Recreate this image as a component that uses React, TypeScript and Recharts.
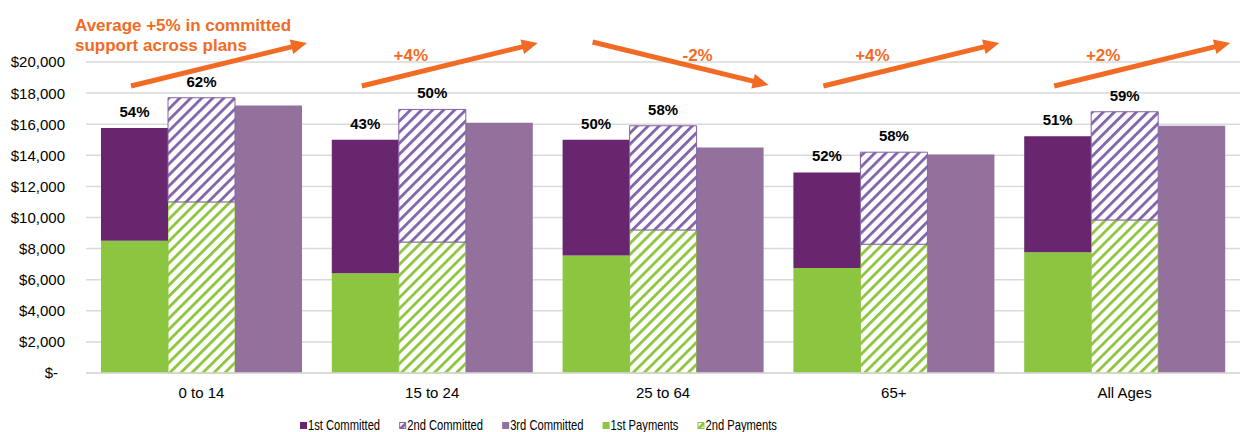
import React from "react";
import { BarChart, Bar, XAxis, YAxis, CartesianGrid, LabelList } from "recharts";

const categories = ["0 to 14", "15 to 24", "25 to 64", "65+", "All Ages"];
const committed1 = [15750, 15000, 15000, 12900, 15220];
const committed2 = [17700, 16950, 15900, 14200, 16800];
const committed3 = [17200, 16100, 14500, 14050, 15900];
const payments1 = [8500, 6410, 7560, 6750, 7770];
const payments2 = [11000, 8420, 9200, 8280, 9840];
const firstShareLabels = ["54%", "43%", "50%", "52%", "51%"];
const secondShareLabels = ["62%", "50%", "58%", "58%", "59%"];
const trendValues = [5, 4, -2, 4, 2];
const headline = ["Average +5% in committed", "support across plans"];
const yTicks = [0, 2000, 4000, 6000, 8000, 10000, 12000, 14000, 16000, 18000, 20000];
const legendNames = ["1st Committed", "2nd Committed", "3rd Committed", "1st Payments", "2nd Payments"];

const W = 1242;
const H = 432;
const PLOT_LEFT = 86;
const PLOT_RIGHT = 1240;
const FONT = '"Liberation Sans", Arial, sans-serif';

const DARK_PURPLE = "#68266F";
const LIGHT_PURPLE = "#94709C";
const HATCH_PURPLE = "#8262A8";
const GREEN = "#8CC540";
const HATCH_GREEN = "#8DC53F";
const ORANGE = "#F26B24";

const chartData = categories.map((name, i) => ({
  name,
  pay1: payments1[i],
  rest1: committed1[i] - payments1[i],
  pay2: payments2[i],
  rest2: committed2[i] - payments2[i],
  com3: committed3[i],
  pct1: firstShareLabels[i],
  pct2: secondShareLabels[i],
}));

const fmtMoney = (v: number) => (v === 0 ? "$-" : "$" + v.toLocaleString("en-US"));

const YTick = (props: any) => {
  const { x, y, payload } = props;
  const v = payload.value as number;
  return (
    <text x={v === 0 ? x - 7 : x} y={y} dy="0.36em" textAnchor="end" fontSize={15} fontFamily={FONT} fill="#000">
      {fmtMoney(v)}
    </text>
  );
};

const pctLabel = (p: any) => (
  <text
    x={p.x + p.width / 2}
    y={p.y - 11}
    textAnchor="middle"
    fontSize={15}
    fontWeight="bold"
    fontFamily={FONT}
    fill="#000"
  >
    {p.value}
  </text>
);

const Patterns = ({ suffix = "" }: { suffix?: string }) => (
  <defs>
    <pattern id={"hatchPurple" + suffix} patternUnits="userSpaceOnUse" width="7.8" height="7.8" patternTransform="rotate(45)">
      <rect width="7.8" height="7.8" fill="#fff" />
      <rect width="2.8" height="7.8" fill={HATCH_PURPLE} />
    </pattern>
    <pattern id={"hatchGreen" + suffix} patternUnits="userSpaceOnUse" width="7.8" height="7.8" patternTransform="rotate(45)">
      <rect width="7.8" height="7.8" fill="#fff" />
      <rect width="2.8" height="7.8" fill={HATCH_GREEN} />
    </pattern>
  </defs>
);

const Arrow = ({ x1, y1, x2, y2 }: { x1: number; y1: number; x2: number; y2: number }) => {
  const dx = x2 - x1;
  const dy = y2 - y1;
  const len = Math.hypot(dx, dy);
  const ux = dx / len;
  const uy = dy / len;
  const hl = 16;
  const hw = 7.5;
  const bx = x2 - ux * hl;
  const by = y2 - uy * hl;
  const pts = [
    [x2, y2],
    [bx - uy * hw, by + ux * hw],
    [bx + uy * hw, by - ux * hw],
  ]
    .map((p) => p.join(","))
    .join(" ");
  return (
    <g>
      <line x1={x1} y1={y1} x2={bx + ux * 2} y2={by + uy * 2} stroke={ORANGE} strokeWidth={5} />
      <polygon points={pts} fill={ORANGE} />
    </g>
  );
};

// arrows, trend notes and legend drawn over the chart
const Overlay = () => {
  const band = (PLOT_RIGHT - PLOT_LEFT) / categories.length;
  const measure = (() => {
    const ctx = document.createElement("canvas").getContext("2d");
    if (ctx) ctx.font = "14px " + FONT;
    return (s: string) => (ctx ? ctx.measureText(s).width : s.length * 7);
  })();
  const squeeze = 0.8;
  let lx = 300;
  const legendItems = legendNames.map((name, i) => {
    const x = lx;
    const tw = measure(name) * squeeze;
    lx += 8 + tw + 19;
    return { name, x, i };
  });
  const swatch = (i: number, x: number) => {
    const y = 422;
    if (i === 1) return <rect x={x + 0.5} y={y + 0.5} width={6} height={6} fill="url(#hatchPurpleL)" stroke={HATCH_PURPLE} strokeWidth={1} />;
    if (i === 4) return <rect x={x + 0.5} y={y + 0.5} width={6} height={6} fill="url(#hatchGreenL)" stroke={HATCH_GREEN} strokeWidth={1} />;
    const c = [DARK_PURPLE, "", LIGHT_PURPLE, GREEN][i];
    return <rect x={x} y={y} width={7} height={7} fill={c} />;
  };

  return (
    <svg width={W} height={H} style={{ position: "absolute", left: 0, top: 0, pointerEvents: "none" }}>
      <Patterns suffix="L" />
      {trendValues.map((v, i) => {
        const bs = PLOT_LEFT + band * i;
        const up = v >= 0;
        return (
          <g key={i}>
            <Arrow x1={bs + 45} y1={up ? 86 : 42} x2={bs + 221} y2={up ? 43 : 85} />
            {i > 0 && (
              <text
                x={up ? bs + 94 : bs + 150}
                y={61}
                textAnchor="middle"
                fontSize={17}
                fontWeight="bold"
                fontFamily={FONT}
                fill={ORANGE}
              >
                {(v > 0 ? "+" : "") + v + "%"}
              </text>
            )}
          </g>
        );
      })}
      {headline.map((line, i) => (
        <text key={i} x={75} y={31 + i * 20} fontSize={17} fontWeight="bold" fontFamily={FONT} fill={ORANGE}>
          {line}
        </text>
      ))}
      {legendItems.map(({ name, x, i }) => (
        <g key={name}>
          {swatch(i, x)}
          <text
            transform={`translate(${x + 8}, 430) scale(${squeeze}, 1)`}
            fontSize={14}
            fontFamily={FONT}
            fill="#000"
          >
            {name}
          </text>
        </g>
      ))}
    </svg>
  );
};

export default function App() {
  return (
    <div style={{ position: "absolute", left: 0, top: 0, width: W, height: H, background: "#fff" }}>
      <BarChart
        width={W}
        height={H}
        data={chartData}
        margin={{ top: 62, right: W - PLOT_RIGHT, left: 0, bottom: 29 }}
        barCategoryGap={15}
        barGap={0}
      >
        <Patterns />
        <CartesianGrid vertical={false} stroke="#D9D9D9" strokeWidth={1.5} />
        <XAxis
          dataKey="name"
          height={30}
          tickLine={false}
          axisLine={{ stroke: "#D9D9D9", strokeWidth: 1.5 }}
          tickMargin={8}
          tick={{ fontSize: 15, fontFamily: FONT, fill: "#000" }}
        />
        <YAxis
          width={PLOT_LEFT}
          domain={[0, 20000]}
          ticks={yTicks}
          axisLine={false}
          tickLine={false}
          tickMargin={15}
          tick={<YTick />}
        />
        <Bar dataKey="pay1" stackId="s1" fill={GREEN} isAnimationActive={false} />
        <Bar dataKey="pay2" stackId="s2" fill="url(#hatchGreen)" stroke={HATCH_GREEN} strokeWidth={1} isAnimationActive={false} />
        <Bar dataKey="com3" stackId="s3" fill={LIGHT_PURPLE} isAnimationActive={false} />
        <Bar dataKey="rest1" stackId="s1" fill={DARK_PURPLE} isAnimationActive={false}>
          <LabelList dataKey="pct1" content={pctLabel} />
        </Bar>
        <Bar dataKey="rest2" stackId="s2" fill="url(#hatchPurple)" stroke={HATCH_PURPLE} strokeWidth={1} isAnimationActive={false}>
          <LabelList dataKey="pct2" content={pctLabel} />
        </Bar>
      </BarChart>
      <Overlay />
    </div>
  );
}
